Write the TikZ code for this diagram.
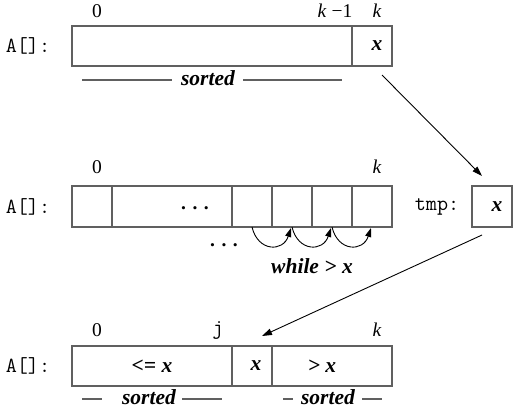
\documentclass[tikz,border=0pt]{standalone}
\usepackage{fontspec}
\setmainfont{Liberation Serif}
\usetikzlibrary{arrows.meta}
\definecolor{boxgray}{RGB}{96,96,96}
\tikzset{
  cellbox/.style={draw=boxgray,line width=1.5pt},
  rulegray/.style={draw=boxgray,line width=1.2pt},
  idx/.style={inner sep=0pt,font=\fontsize{19.5}{22}\selectfont},
  lbl/.style={inner sep=0pt,font=\fontsize{21.5}{24}\selectfont\bfseries\itshape},
  mono/.style={inner sep=0pt,font=\fontsize{21.5}{24}\selectfont\ttfamily},
  ptr/.style={draw=black,line width=0.9pt,-{Triangle[length=10pt,width=6.5pt]}},
  shiftarrow/.style={draw=black,line width=0.9pt,-{Triangle[length=9pt,width=6pt]}},
}
\newcommand{\threedots}{{\bfseries .\hspace{6.5pt}.\hspace{6.5pt}.}}
\begin{document}
\begin{tikzpicture}[x=1pt,y=-1pt]
\useasboundingbox (0,0) rectangle (514,408);
% ---------- top array ----------
\node[mono] (a1) at (28,46) {A[]:};
\draw[cellbox] (72,26) rectangle (392,66);
\draw[cellbox] (352,26) -- (352,66);
\node[idx] (t0) at (97,11) {0};
\node[idx] (tk1) at (335,11) {\textit{k} −1};
\node[idx] (tk) at (377,11) {\textit{k}};
\node[lbl] (tx) at (377,46) {x};
\node[lbl] (ts) at (208,78) {sorted};
\draw[rulegray] (82,80) -- (172,80);
\draw[rulegray] (243,80) -- (342,80);
% ---------- middle array ----------
\node[mono] (a2) at (28,207) {A[]:};
\draw[cellbox] (72,186) rectangle (392,227);
\foreach \xx in {112,232,272,312,352} \draw[cellbox] (\xx,186) -- (\xx,227);
\node[idx] (m0) at (97,167) {0};
\node[idx] (mk) at (377,167) {\textit{k}};
\node[idx] (mdots) at (195,208) {\threedots};
\node[idx] (mdots2) at (224,245) {\threedots};
\node[mono] (tmpl) at (437,207) {tmp:};
\draw[cellbox] (472,186) rectangle (512,227);
\node[lbl] (tmpx) at (497,207) {x};
\node[lbl] (wh) at (312,266) {while > x};
\coordinate (c1) at (252,227);
\coordinate (c2) at (291,228);
\coordinate (c3) at (331,228);
\coordinate (c4) at (371,228);
\coordinate (c2s) at (292,227);
\coordinate (c3s) at (332,227);
\draw[shiftarrow] (c1) .. controls (258,252) and (283,252) .. (c2);
\draw[shiftarrow] (c2s) .. controls (298,252) and (323,252) .. (c3);
\draw[shiftarrow] (c3s) .. controls (338,252) and (363,252) .. (c4);
% ---------- bottom array ----------
\node[mono] (a3) at (28,366) {A[]:};
\draw[cellbox] (72,346) rectangle (392,386);
\draw[cellbox] (232,346) -- (232,386);
\draw[cellbox] (272,346) -- (272,386);
\node[idx] (b0) at (97,330) {0};
\node[mono] (bj) at (218,330) {j};
\node[idx] (bk) at (377,330) {\textit{k}};
\node[lbl] (ble) at (152,366) {<= x};
\node[lbl] (bx) at (256,366) {x};
\node[lbl] (bgt) at (322,366) {> x};
\node[lbl] (bs1) at (149,397) {sorted};
\node[lbl] (bs2) at (328,397) {sorted};
\draw[rulegray] (82,399) -- (102,399);
\draw[rulegray] (182,399) -- (222,399);
\draw[rulegray] (283,399) -- (293,399);
\draw[rulegray] (362,399) -- (382,399);
% ---------- arrows ----------
\coordinate (p1s) at (382,75);
\coordinate (p1e) at (482,176);
\coordinate (p2s) at (482,235);
\coordinate (p2e) at (262,336);
\draw[ptr] (p1s) -- (p1e);
\draw[ptr] (p2s) -- (p2e);
\end{tikzpicture}
\end{document}
